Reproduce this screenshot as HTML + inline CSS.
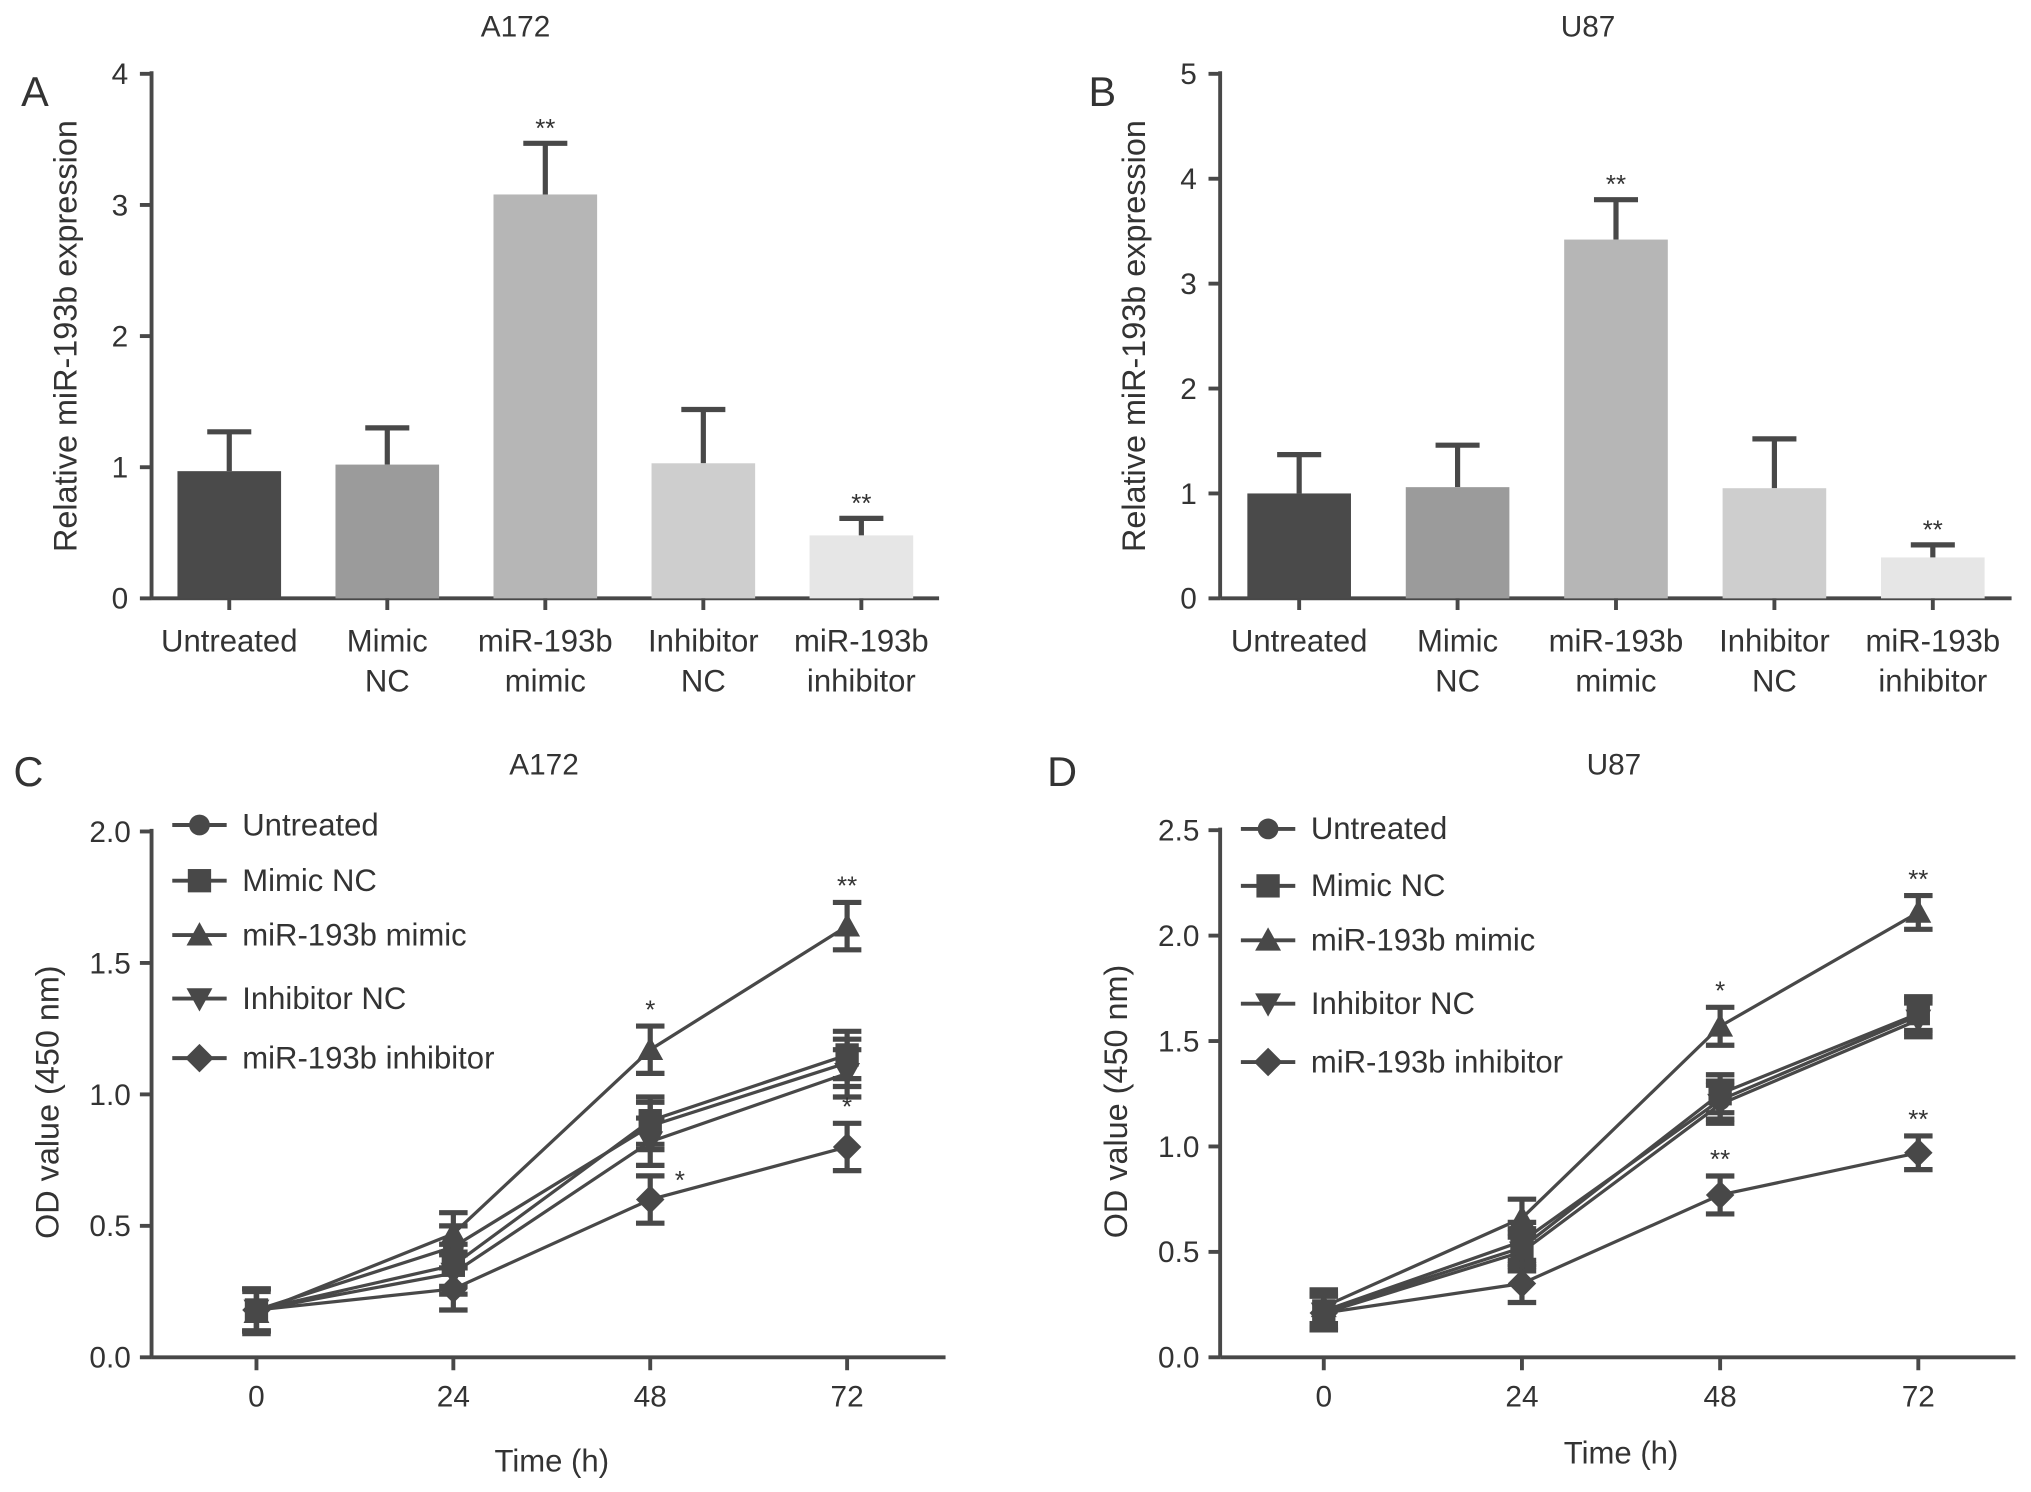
<!DOCTYPE html>
<html><head><meta charset="utf-8"><style>
html,body{margin:0;padding:0;background:#fff;}
svg{display:block;font-family:"Liberation Sans",sans-serif;}
</style></head><body>
<svg id="fig" width="2031" height="1492" viewBox="0 0 1568 1152" preserveAspectRatio="none" xmlns="http://www.w3.org/2000/svg"></svg>
<script>
// ---- Bar chart data ----
const barCategories = [["Untreated"],["Mimic","NC"],["miR-193b","mimic"],["Inhibitor","NC"],["miR-193b","inhibitor"]];
const barColors = ["#4a4a4a","#9b9b9b","#b6b6b6","#cecece","#e6e6e6"];
const barA = [0.97, 1.02, 3.08, 1.03, 0.48];
const errA = [0.30, 0.28, 0.39, 0.41, 0.13];
const barB = [1.00, 1.06, 3.42, 1.05, 0.39];
const errB = [0.37, 0.40, 0.38, 0.47, 0.12];
const sigA = ["", "", "**", "", "**"];
const sigB = ["", "", "**", "", "**"];
const ticksA = [0,1,2,3,4];
const ticksB = [0,1,2,3,4,5];
// ---- Line chart data ----
const timePoints = [0,24,48,72];
const seriesNames = ["Untreated","Mimic NC","miR-193b mimic","Inhibitor NC","miR-193b inhibitor"];
const markers = ["circle","square","triangle","tridown","diamond"];
const C_untreated = [0.18,0.42,0.88,1.12];
const C_mimicNC = [0.18,0.35,0.90,1.15];
const C_mimic = [0.17,0.47,1.17,1.64];
const C_inhNC = [0.18,0.32,0.82,1.08];
const C_inh = [0.18,0.26,0.60,0.80];
const C_err = [0.08,0.08,0.09,0.09];
const D_untreated = [0.22,0.55,1.22,1.62];
const D_mimicNC = [0.22,0.52,1.25,1.63];
const D_mimic = [0.24,0.66,1.57,2.11];
const D_inhNC = [0.21,0.50,1.20,1.60];
const D_inh = [0.21,0.35,0.77,0.97];
const D_err = [0.08,0.09,0.09,0.08];
const ticksC = [0,0.5,1.0,1.5,2.0];
const ticksD = [0,0.5,1.0,1.5,2.0,2.5];
const sigC = [["","","",""],["","","",""],["","","*","**"],["","","",""],["","","*","*"]];
const sigD = [["","","",""],["","","",""],["","","*","**"],["","","",""],["","","**","**"]];

const svg = document.getElementById('fig');
const NS = "http://www.w3.org/2000/svg";
const INK = "#484848";
function el(tag, attrs, parent){const e=document.createElementNS(NS,tag);for(const k in attrs)e.setAttribute(k,attrs[k]);(parent||svg).appendChild(e);return e;}
function txt(s,x,y,size,anchor,parent,name){const t=el('text',{x:x,y:y,'font-size':size,'text-anchor':anchor||'middle',fill:'#333'},parent);t.textContent=s;


return t;}

function barPanel(o){
  const g=el('g',{});
  
  
  const y=v=>o.y0-(v/o.ymax)*(o.y0-o.ytop);
  const x=i=>o.x0+o.first+i*o.step;
  txt(o.letter,o.letterX,82,32,'middle',g,'panel-letter');
  txt(o.title,o.titleX,28,23,'middle',g,'chart-title');
  el('line',{x1:o.x0,y1:o.ytop-2,x2:o.x0,y2:o.y0,stroke:INK,'stroke-width':3},g);
  el('line',{x1:o.x0,y1:o.y0,x2:o.x1,y2:o.y0,stroke:INK,'stroke-width':3},g);
  o.ticks.forEach(t=>{el('line',{x1:o.x0-9,y1:y(t),x2:o.x0,y2:y(t),stroke:INK,'stroke-width':3},g);
    txt(String(t),o.x0-18,y(t)+8,23,'end',g,'y-tick-label');});
  const yl=txt("Relative miR-193b expression",0,0,25,'middle',g,'y-axis-title');
  yl.setAttribute('transform',`translate(${o.x0-58},${(o.y0+o.ytop)/2}) rotate(-90)`);
  o.values.forEach((v,i)=>{
    const cx=x(i);
    const top=y(v+o.err[i]);
    const eb=el('g',{},g);
    
    
    el('line',{x1:cx,y1:top,x2:cx,y2:y(v),stroke:INK,'stroke-width':4},eb);
    el('line',{x1:cx-17,y1:top,x2:cx+17,y2:top,stroke:INK,'stroke-width':4},eb);
    const r=el('rect',{x:cx-40,y:y(v),width:80,height:o.y0-y(v),fill:barColors[i]},g);
    
    
    if(o.sig[i])txt(o.sig[i],cx,top-5,20,'middle',g,'significance-mark');
    el('line',{x1:cx,y1:o.y0,x2:cx,y2:o.y0+9,stroke:INK,'stroke-width':3},g);
    barCategories[i].forEach((s,k)=>txt(s,cx,503+k*31,24,'middle',g,'x-tick-label'));
  });
}
barPanel({name:'panel-a',letter:'A',letterX:27,title:'A172',titleX:398,x0:117,x1:725,y0:462,ytop:57,ymax:4,first:60,step:122,values:barA,err:errA,sig:sigA,ticks:ticksA});
barPanel({name:'panel-b',letter:'B',letterX:851,title:'U87',titleX:1226,x0:942,x1:1553,y0:462,ytop:57,ymax:5,first:61,step:122.3,values:barB,err:errB,sig:sigB,ticks:ticksB});

function marker(type,cx,cy,g){
  const s=9;let e;
  if(type==='circle')e=el('circle',{cx:cx,cy:cy,r:8,fill:INK},g);
  else if(type==='square')e=el('rect',{x:cx-s,y:cy-s,width:2*s,height:2*s,fill:INK},g);
  else if(type==='triangle')e=el('polygon',{points:`${cx},${cy-10} ${cx+10},${cy+8} ${cx-10},${cy+8}`,fill:INK},g);
  else if(type==='tridown')e=el('polygon',{points:`${cx},${cy+10} ${cx+10},${cy-8} ${cx-10},${cy-8}`,fill:INK},g);
  else e=el('polygon',{points:`${cx},${cy-11} ${cx+11},${cy} ${cx},${cy+11} ${cx-11},${cy}`,fill:INK},g);
  
  
}

function linePanel(o){
  const g=el('g',{});
  
  
  const y=v=>o.y0-(v/o.ymax)*(o.y0-o.ytop);
  const x=t=>o.xz+(t/72)*(o.x72-o.xz);
  txt(o.letter,o.letterX,607,32,'middle',g,'panel-letter');
  txt(o.title,o.titleX,598,23,'middle',g,'chart-title');
  el('line',{x1:o.x0,y1:o.ytop-2,x2:o.x0,y2:o.y0,stroke:INK,'stroke-width':3},g);
  el('line',{x1:o.x0,y1:o.y0,x2:o.x1,y2:o.y0,stroke:INK,'stroke-width':3},g);
  o.ticks.forEach(t=>{el('line',{x1:o.x0-9,y1:y(t),x2:o.x0,y2:y(t),stroke:INK,'stroke-width':3},g);
    txt(t.toFixed(1),o.x0-16,y(t)+8,23,'end',g,'y-tick-label');});
  timePoints.forEach(t=>{el('line',{x1:x(t),y1:o.y0,x2:x(t),y2:o.y0+10,stroke:INK,'stroke-width':3},g);
    txt(String(t),x(t),o.y0+38,23,'middle',g,'x-tick-label');});
  txt("Time (h)",(o.xz+o.x72)/2,o.y0+o.tlab,24,'middle',g,'x-axis-title');
  const yl=txt("OD value (450 nm)",0,0,25,'middle',g,'y-axis-title');
  yl.setAttribute('transform',`translate(${o.x0-72},${(o.y0+o.ytop)/2+6}) rotate(-90)`);
  o.series.forEach((vals,si)=>{
    const sg=el('g',{},g);
    
    
    el('polyline',{points:vals.map((v,i)=>`${x(timePoints[i])},${y(v)}`).join(' '),fill:'none',stroke:INK,'stroke-width':2.5},sg);
    vals.forEach((v,i)=>{
      const cx=x(timePoints[i]),e=o.err[i];
      el('line',{x1:cx,y1:y(v+e),x2:cx,y2:y(v-e),stroke:INK,'stroke-width':4},sg);
      el('line',{x1:cx-11,y1:y(v+e),x2:cx+11,y2:y(v+e),stroke:INK,'stroke-width':4},sg);
      el('line',{x1:cx-11,y1:y(v-e),x2:cx+11,y2:y(v-e),stroke:INK,'stroke-width':4},sg);
      marker(markers[si],cx,y(v),sg);
      const s=o.sig[si][i];
      if(s){
        if(si===4&&i===2&&o.letter==='C')txt(s,cx+19,y(v)-8,20,'start',g,'significance-mark');
        else txt(s,cx,y(v+e)-6,20,'middle',g,'significance-mark');
      }
    });
  });
  seriesNames.forEach((n,i)=>{
    const ly=o.legY[i];
    const lg=el('g',{},g);
    
    
    el('line',{x1:o.legX,y1:ly,x2:o.legX+42,y2:ly,stroke:INK,'stroke-width':3},lg);
    marker(markers[i],o.legX+21,ly,lg);
    txt(n,o.legX+54,ly+8,24,'start',lg,'legend-label');
  });
}
linePanel({name:'panel-c',letter:'C',letterX:22,title:'A172',titleX:420,x0:117,x1:730,xz:198,x72:654,y0:1048,ytop:642,ymax:2,ticks:ticksC,
  series:[C_untreated,C_mimicNC,C_mimic,C_inhNC,C_inh],err:C_err,sig:sigC,legX:133,legY:[637,680,722,771,817],tlab:88});
linePanel({name:'panel-d',letter:'D',letterX:820,title:'U87',titleX:1246,x0:942,x1:1556,xz:1022,x72:1481,y0:1048,ytop:641,ymax:2.5,ticks:ticksD,
  series:[D_untreated,D_mimicNC,D_mimic,D_inhNC,D_inh],err:D_err,sig:sigD,legX:958,legY:[640,684,726,775,820],tlab:82});
</script>
</body></html>
